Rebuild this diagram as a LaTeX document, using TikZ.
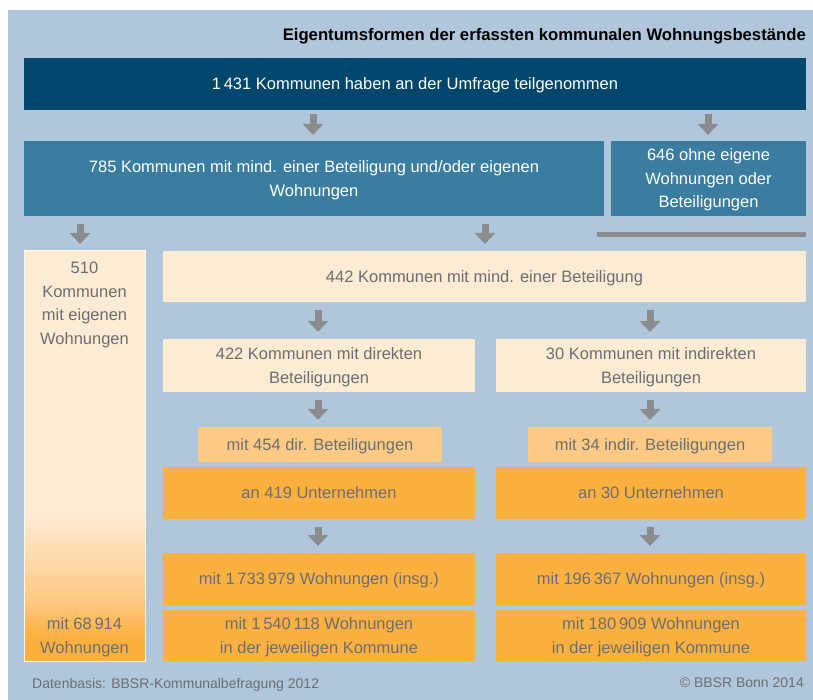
\documentclass[tikz,border=0pt]{standalone}
\usepackage{fontspec}
\setmainfont{Liberation Sans}
\usetikzlibrary{positioning,arrows.meta}

\definecolor{panelblue}{HTML}{B0C7DB}
\definecolor{navy}{HTML}{00476E}
\definecolor{midblue}{HTML}{3A7DA1}
\definecolor{cream}{HTML}{FDEBD4}
\definecolor{lightorange}{HTML}{FDCA85}
\definecolor{deeporange}{HTML}{FBB040}
\definecolor{textgray}{HTML}{6D6E71}
\definecolor{arrowgray}{HTML}{8B8C8E}

\pgfdeclareverticalshading{ownershade}{100bp}{color(0bp)=(deeporange); color(28bp)=(deeporange); color(32.5bp)=(lightorange); color(43bp)=(cream); color(100bp)=(cream)}

\tikzset{
  box/.style={anchor=north west, inner sep=0pt, outer sep=0pt, align=center, text depth=0pt, font=\fontsize{16.5pt}{23.5pt}\selectfont},
  navybox/.style={box, fill=navy, text=white},
  bluebox/.style={box, fill=midblue, text=white},
  creambox/.style={box, fill=cream, text=textgray},
  paleorange/.style={box, fill=lightorange, text=textgray},
  orangebox/.style={box, fill=deeporange, text=textgray},
  graylabel/.style={inner sep=0pt, align=center, text=textgray, font=\fontsize{16.5pt}{23.5pt}\selectfont},
  blockarr/.style={draw=arrowgray, line width=7pt, -{Triangle[width=20pt,length=11pt]}, shorten <=8pt, shorten >=7pt},
}

\begin{document}
\begin{tikzpicture}[x=1pt, y=-1pt]
  \useasboundingbox (0,0) rectangle (813,700);
  % panel
  \fill[panelblue] (8,10) rectangle (813,700);
  \node[anchor=base east, inner sep=0pt, font=\fontsize{16.7pt}{20pt}\selectfont\bfseries] (title) at (806,41) {Eigentumsformen der erfassten kommunalen Wohnungsbestände};

  % survey level
  \node[navybox, minimum width=782pt, minimum height=52pt] (survey) at (24,58) {1\,431 Kommunen haben an der Umfrage teilgenommen};
  \node[bluebox, minimum width=580pt, minimum height=75pt] (withstock) at (24,141) {785 Kommunen mit mind. einer Beteiligung und/oder eigenen\\Wohnungen};
  \node[bluebox, minimum width=195pt, minimum height=75pt] (without) at (611,141) {646 ohne eigene\\Wohnungen oder\\Beteiligungen};
  \draw[arrowgray, line width=5pt] (597,235) -- (806,235);

  % own flats
  \node[box, shading=ownershade, draw=white!60!cream, line width=1pt, minimum width=121pt, minimum height=410pt] (owner) at (24,251) {};
  \node[graylabel, below=11pt of owner.north] (ownertop) {510\\Kommunen\\mit eigenen\\Wohnungen};
  \node[graylabel, above=4pt of owner.south] (ownerflats) {mit 68\,914\\Wohnungen};

  % holdings
  \node[creambox, minimum width=643pt, minimum height=51pt] (holding) at (163,251) {442 Kommunen mit mind. einer Beteiligung};
  \node[creambox, minimum width=312pt, minimum height=53pt] (direct) at (163,339) {422 Kommunen mit direkten\\Beteiligungen};
  \node[creambox, minimum width=310pt, minimum height=53pt] (indirect) at (496,339) {30 Kommunen mit indirekten\\Beteiligungen};
  \node[paleorange, minimum width=244pt, minimum height=35pt] (dircount) at (198,427) {mit 454 dir. Beteiligungen};
  \node[paleorange, minimum width=244pt, minimum height=35pt] (indcount) at (528,427) {mit 34 indir. Beteiligungen};
  \node[orangebox, minimum width=312pt, minimum height=52pt] (dirfirms) at (163,467) {an 419 Unternehmen};
  \node[orangebox, minimum width=310pt, minimum height=52pt] (indfirms) at (496,467) {an 30 Unternehmen};
  \node[orangebox, minimum width=312pt, minimum height=52pt] (dirflats) at (163,553) {mit 1\,733\,979 Wohnungen (insg.)};
  \node[orangebox, minimum width=310pt, minimum height=52pt] (indflats) at (496,553) {mit 196\,367 Wohnungen (insg.)};
  \node[orangebox, minimum width=312pt, minimum height=51pt] (dirlocal) at (163,610) {mit 1\,540\,118 Wohnungen\\in der jeweiligen Kommune};
  \node[orangebox, minimum width=310pt, minimum height=51pt] (indlocal) at (496,610) {mit 180\,909 Wohnungen\\in der jeweiligen Kommune};

  % arrows
  \foreach \src/\dst/\x in {survey/withstock/313, survey/without/708}
    \draw[blockarr, shorten <=4pt, shorten >=6pt] (\src.south -| \x,0) -- (\dst.north -| \x,0);
  \foreach \src/\dst/\x in {withstock/owner/80, withstock/holding/485, holding/direct/318, holding/indirect/650, direct/dircount/318, indirect/indcount/650, dirfirms/dirflats/318, indfirms/indflats/650}
    \draw[blockarr] (\src.south -| \x,0) -- (\dst.north -| \x,0);

  % footer
  \node[anchor=base west, inner sep=0pt, text=textgray, font=\fontsize{14pt}{16pt}\selectfont] (source) at (32,688) {Datenbasis: BBSR-Kommunalbefragung 2012};
  \node[anchor=base east, inner sep=0pt, text=textgray, font=\fontsize{14pt}{16pt}\selectfont] (copyright) at (804,687) {© BBSR Bonn 2014};
\end{tikzpicture}
\end{document}
